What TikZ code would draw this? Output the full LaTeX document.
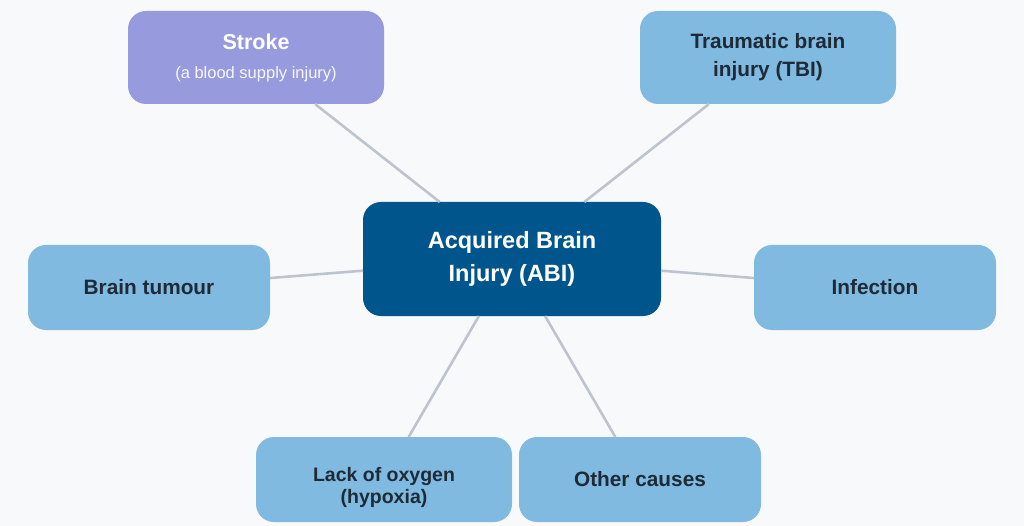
\documentclass[tikz,border=0pt]{standalone}
\usepackage{fontspec}
\setmainfont{Liberation Sans}
\usepackage{tikz}
\usetikzlibrary{positioning}
\definecolor{pagebg}{RGB}{248,249,250}
\definecolor{abiblue}{RGB}{0,85,140}
\definecolor{causeblue}{RGB}{128,186,224}
\definecolor{strokeviolet}{RGB}{151,155,222}
\definecolor{darktext}{RGB}{31,42,55}
\definecolor{linkgray}{RGB}{190,196,206}

\begin{document}
\begin{tikzpicture}[
		x=1pt, y=-1pt,
		MainBox/.style={fill=abiblue, rounded corners=18pt, minimum width=298pt, minimum height=114pt,
			text=white, align=center, outer sep=0pt, font=\fontsize{23.5}{32.5}\selectfont\bfseries},
		CauseBox/.style={fill=causeblue, rounded corners=18pt, minimum width=242pt, minimum height=85pt,
			text=darktext, align=center, outer sep=0pt, font=\fontsize{20.8}{28}\selectfont\bfseries},
		WideBox/.style={CauseBox, minimum width=256pt, minimum height=93pt},
		Links/.style={draw=linkgray, line width=2.6pt}
		]
		
		\fill[pagebg] (0,0) rectangle (1024,526);
		\useasboundingbox (0,0) rectangle (1024,526);
		
		% centre and the six causes
		\node[MainBox] (abi) at (512,259) {Acquired Brain\\Injury (ABI)};
		
		\node[WideBox, fill=strokeviolet, text=white, font=\fontsize{21.5}{29}\selectfont\bfseries] (stroke) at (256,57.5)
		{Stroke\\{\fontsize{16.5}{20}\selectfont\mdseries\color{white!92!strokeviolet}(a blood supply injury)}};
		\node[WideBox, text height=42pt] (tbi) at (768,57.5) {Traumatic brain\\injury (TBI)};
		
		\node[CauseBox] (tumour) at (149,287.5) {Brain tumour};
		\node[CauseBox] (infection) at (875,287.5) {Infection};
		
		\node[WideBox, minimum height=85pt, text height=53pt, font=\fontsize{19.5}{22}\selectfont\bfseries] (hypoxia) at (384,479.5)
		{Lack of oxygen\\(hypoxia)};
		\node[CauseBox] (other) at (640,479.5) {Other causes};
		
		% links
		\draw[Links] (abi) -- (stroke);
		\draw[Links] (abi) -- (tbi);
		\draw[Links] (abi) -- (tumour);
		\draw[Links] (abi) -- (infection);
		\draw[Links] (abi) -- (hypoxia);
		\draw[Links] (abi) -- (other);
		
	\end{tikzpicture}
\end{document}
